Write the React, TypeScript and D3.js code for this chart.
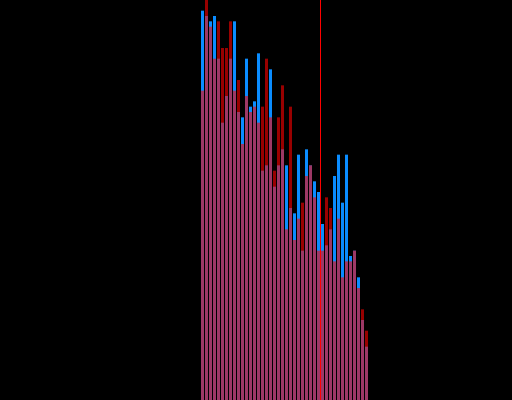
import React from "react";
import * as d3 from "d3";

const blueCounts = [73, 72, 71, 72, 64, 52, 57, 64, 71, 54, 53, 64, 55, 56, 65, 43, 44, 62, 40, 44, 47, 44, 36, 35, 46, 28, 47, 44, 41, 39, 33, 29, 32, 42, 46, 37, 46, 27, 28, 23, 15, 10];
const redCounts = [58, 78, 70, 64, 71, 66, 66, 71, 58, 60, 48, 57, 54, 55, 52, 55, 64, 53, 43, 53, 59, 32, 55, 30, 34, 37, 42, 44, 38, 28, 28, 38, 36, 26, 34, 23, 26, 26, 28, 21, 17, 13];
const markerBin = 29.875;

const W = 512;
const H = 400;

export default function App() {
  const n = blueCounts.length;
  const x = d3.scaleLinear().domain([0, n]).range([201, 369]);
  const y = d3.scaleLinear().domain([0, 75]).range([H, 0]);
  const bw = x(1) - x(0) - 1;
  return (
    <svg
      width={W}
      height={H}
      style={{ position: "absolute", left: 0, top: 0, display: "block" }}
    >
      <rect x={0} y={0} width={W} height={H} fill="#000000" />
      <g>
        {blueCounts.map((v, i) => (
          <rect key={"b" + i} x={x(i)} y={y(v)} width={bw} height={H - y(v)} fill="#0a8cff" />
        ))}
      </g>
      <g>
        {redCounts.map((v, i) => (
          <rect key={"r" + i} x={x(i)} y={y(v)} width={bw} height={H - y(v)} fill="#ff0000" fillOpacity={0.6} />
        ))}
      </g>
      <line x1={x(markerBin)} x2={x(markerBin)} y1={0} y2={H} stroke="#ff0000" strokeWidth={1.2} shapeRendering="crispEdges" />
    </svg>
  );
}
